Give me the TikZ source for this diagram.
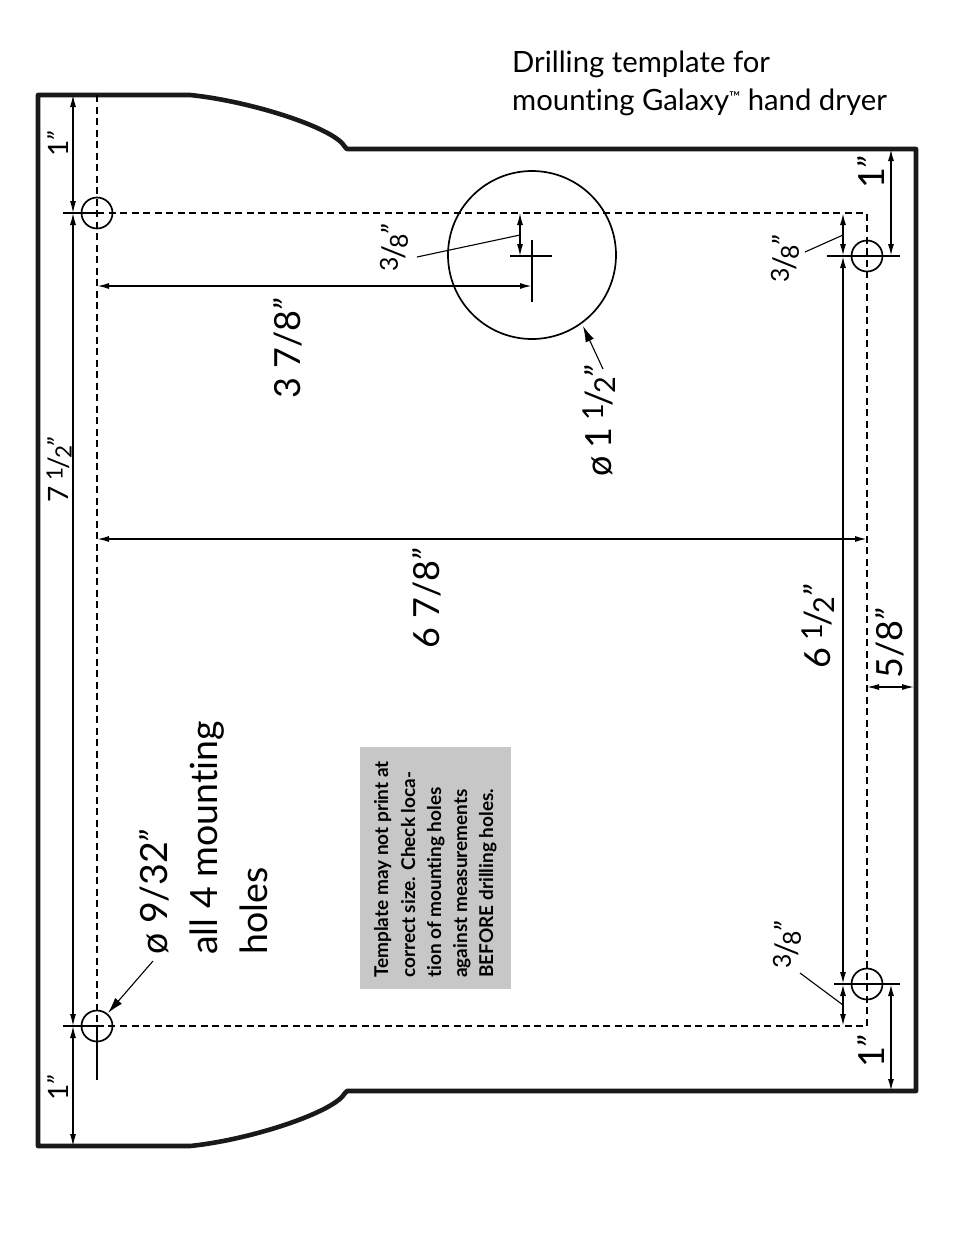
\documentclass[tikz,border=0pt]{standalone}
\usepackage{fontspec}
\setmainfont[Ligatures=NoCommon]{Lato}
\usepackage{tikz}
\usetikzlibrary{arrows.meta}
\newcommand{\inchmark}{{\kern-.04em\itshape\symbol{34}}}
\newcommand{\smallfrac}[2]{\raisebox{.22em}{\scalebox{.8}{#1}}\kern-.08em/\kern-.08em\raisebox{-.1em}{\scalebox{.8}{#2}}}
\tikzset{
  x=1pt,y=-1pt,
  >={Latex[length=12pt,width=6pt]},
  outline/.style={line width=4.6pt,line join=round,color=black!90},
  holeline/.style={line width=1.7pt},
  dashline/.style={line width=1.8pt,dash pattern=on 7pt off 4.5pt},
  dimline/.style={<->,line width=1.2pt},
  thickdim/.style={<->,line width=1.6pt},
  thinline/.style={line width=1.1pt},
  biglabel/.style={rotate=90,font=\fontsize{36}{36}\selectfont},
  smalllabel/.style={rotate=90,font=\fontsize{28}{28}\selectfont},
  fraclabel/.style={rotate=90,font=\fontsize{31}{31}\selectfont},
  blocklabel/.style={rotate=90,anchor=base west,inner sep=0pt,font=\fontsize{37.5}{37.5}\selectfont},
}
\begin{document}
\begin{tikzpicture}
\useasboundingbox (0,0) rectangle (954,1235);
\fill[white] (0,0) rectangle (954,1235);
% outline
\draw[outline] (38,95) -- (190,95) .. controls (250,101) and (335,128) .. (345,147) -- (347,149) -- (916,149) -- (916,1091) -- (347,1091) -- (345,1093) .. controls (335,1112) and (250,1140) .. (190,1146) -- (38,1146) -- cycle;
% dashed lines
\draw[dashline] (97,95) -- (97,1026);
\draw[dashline] (97,213) -- (867,213) -- (867,1026) -- (97,1026);
\draw[holeline] (97,1026) -- (97,1080);
\draw[thinline] (63,213) -- (97,213);
\draw[thinline] (63,1026) -- (97,1026);
% holes
\foreach \hx/\hy/\hname in {97/213/holeA,97/1026/holeB,867/256/holeC,867/984/holeD} {
\node[draw,circle,holeline,minimum size=31pt,inner sep=0pt] (\hname) at (\hx,\hy) {};
}
\draw[thinline] (827,256) -- (900,256);
\draw[thinline] (834,984) -- (900,984);
% big hole
\node[draw,circle,holeline,minimum size=168pt,inner sep=0pt] (bighole) at (532,255) {};
\draw[holeline] (510,256) -- (552,256);
\draw[thinline] (532,240) -- (532,302);
% dimensions
\draw[dimline] (73,95) -- (73,213);
\draw[dimline] (73,213) -- (73,1026);
\draw[dimline] (73,1026) -- (73,1146);
\draw[thickdim] (97,286) -- (532,286);
\draw[thickdim] (97,539) -- (867,539);
\draw[dimline] (520,213) -- (520,256);
\draw[thickdim] (843,213) -- (843,256);
\draw[thickdim] (843,256) -- (843,984);
\draw[thickdim] (843,984) -- (843,1026);
\draw[thickdim] (891,149) -- (891,256);
\draw[thickdim] (891,984) -- (891,1091);
\draw[dimline] (867,687) -- (914,687);
% leaders
\draw[thinline] (417,257) -- (520,235);
\draw[thinline] (805,252) -- (843,235);
\draw[thinline] (800,973) -- (843,1005);
\draw[thinline,-{Latex[length=16pt,width=9pt]}] (603,369) -- (583,326);
\draw[thinline,-{Latex[length=16pt,width=9pt]}] (153,961) -- (108,1013);
% labels
\node[smalllabel] (topinch) at (58,144) {1\inchmark};
\node[smalllabel] (botinch) at (58,1088) {1\inchmark};
\node[smalllabel] (leftlen) at (59,470) {7\hspace{.22em}\smallfrac{1}{2}\inchmark};
\node[fraclabel] (holeoff) at (394,248) {\smallfrac{3}{8}\inchmark};
\node[fraclabel] (topoff) at (785,259) {\smallfrac{3}{8}\inchmark};
\node[fraclabel] (botoff) at (787,945) {\smallfrac{3}{8}\inchmark};
\node[biglabel] (holedist) at (288,349) {3 7/8\inchmark};
\node[biglabel] (bigdia) at (599,421) {\o\hspace{.2em}1\hspace{.2em}\smallfrac{1}{2}\inchmark};
\node[biglabel] (widthdim) at (427,599) {6 7/8\inchmark};
\node[biglabel] (heightdim) at (818,627) {6\hspace{.2em}\smallfrac{1}{2}\inchmark};
\node[biglabel] (edgedim) at (890,644) {5/8\inchmark};
\node[biglabel] (rightA) at (871,173) {1\inchmark};
\node[biglabel] (rightB) at (871,1052) {1\inchmark};
\node[blocklabel] (diatext) at (167,955) {\o\ 9/32\inchmark};
\node[blocklabel] (alltext) at (217,955) {all 4 mounting};
\node[blocklabel] (holetext) at (267,955) {holes};
% note
\fill[black!22] (360,747) rectangle (511,989);
\foreach \lx/\ltext/\lname in {388/Template may not print at/noteA,415/correct size. Check loca-/noteB,441/tion of mounting holes/noteC,467/against measurements/noteD,493/BEFORE drilling holes./noteE} {
\node[rotate=90,anchor=base west,inner sep=0pt,font=\fontsize{19}{19}\selectfont\bfseries] (\lname) at (\lx,978) {\ltext};
}
% title
\node[anchor=base west,inner sep=0pt,font=\fontsize{29.3}{29.3}\selectfont] (titleA) at (512,72) {Drilling template for};
\node[anchor=base west,inner sep=0pt,font=\fontsize{29.3}{29.3}\selectfont] (titleB) at (512,110) {mounting Galaxy\raisebox{8pt}{\fontsize{15}{15}\selectfont ™} hand dryer};
\end{tikzpicture}
\end{document}
